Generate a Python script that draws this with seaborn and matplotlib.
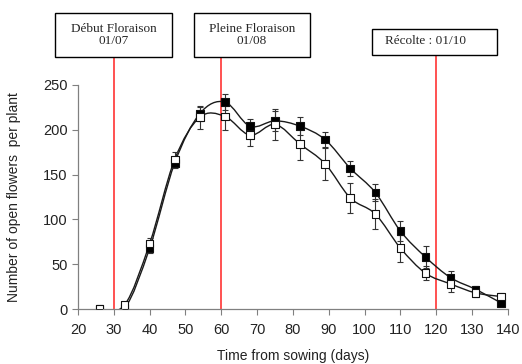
import numpy as np
import pandas as pd
import matplotlib
matplotlib.use('Agg')
import matplotlib.pyplot as plt
from matplotlib.path import Path
from matplotlib.patches import PathPatch, Rectangle
import seaborn as sns

# %% data
days = [26, 33, 40, 47, 54, 61, 68, 75, 82, 89, 96, 103, 110, 117, 124, 131, 138]
open_flowers = [0, 4.5, 73, 167, 214, 215, 194, 206, 184, 162, 124, 106, 68, 40, 28, 18, 14]
open_err = [0, 2, 6, 8, 13, 15, 12, 17, 18, 18, 17, 17, 15, 8, 9, 5, 4]
filled_flowers = [0, 1, 68, 163, 218, 231, 204, 210, 204, 189, 157, 130, 87, 58, 35, 22, 7]
filled_err = [0, 1, 5, 6, 8, 9, 8, 11, 10, 8, 8, 10, 11, 12, 8, 4, 3]

stage_days = [30, 60, 120]
stage_labels = ['Début Floraison\n01/07', 'Pleine Floraison\n01/08', 'Récolte : 01/10']

df = pd.DataFrame({
    'day': days * 2,
    'flowers': filled_flowers + open_flowers,
    'serie': ['filled'] * len(days) + ['open'] * len(days),
})


def smooth_path(x, y):
    """Catmull-Rom style bezier path through the points (Excel smoothed line)."""
    pts = np.column_stack([x, y]).astype(float)
    verts = [pts[0]]
    codes = [Path.MOVETO]
    n = len(pts)
    for i in range(n - 1):
        p0 = pts[max(i - 1, 0)]
        p1 = pts[i]
        p2 = pts[i + 1]
        p3 = pts[min(i + 2, n - 1)]
        verts += [p1 + (p2 - p0) / 6, p2 - (p3 - p1) / 6, p2]
        codes += [Path.CURVE4] * 3
    return Path(verts, codes)


# %% plot
sns.set_style('white')
plt.rcParams['font.family'] = ['Liberation Sans', 'DejaVu Sans']

fig = plt.figure(figsize=(5.22, 3.64), dpi=100)
ax = fig.add_axes([0.1494, 0.151, 0.8236, 0.6155])

for yv in (filled_flowers, open_flowers):
    ax.add_patch(PathPatch(smooth_path(days, yv), facecolor='none',
                           edgecolor='#1a1a1a', lw=1.0, zorder=2))

ax.errorbar(days, filled_flowers, yerr=filled_err, fmt='none', ecolor='#333333',
            elinewidth=0.8, capsize=2.5, capthick=0.8, zorder=3)
ax.errorbar(days, open_flowers, yerr=open_err, fmt='none', ecolor='#333333',
            elinewidth=0.8, capsize=2.5, capthick=0.8, zorder=3)

sns.scatterplot(data=df, x='day', y='flowers', hue='serie',
                palette={'filled': 'black', 'open': 'white'},
                marker='s', s=30, edgecolor='#111111', linewidth=0.8,
                legend=False, ax=ax, zorder=4)

ax.set_xlim(20, 140)
ax.set_ylim(0, 250)
ax.set_xticks(range(20, 141, 10))
ax.set_yticks(range(0, 251, 50))
ax.tick_params(axis='both', labelsize=10.5, colors='#222222', length=4,
               width=0.8, direction='out', bottom=True, left=True)
ax.tick_params(axis='x', pad=6)
ax.tick_params(axis='both', color='#808080')
for s in ('top', 'right'):
    ax.spines[s].set_visible(False)
for s in ('left', 'bottom'):
    ax.spines[s].set_color('#808080')
    ax.spines[s].set_linewidth(0.9)
ax.set_xlabel('Time from sowing (days)', fontsize=10, color='#222222', labelpad=9)
ax.set_ylabel('Number of open flowers  per plant', fontsize=10, color='#222222',
              labelpad=16)

# stage lines and boxes
line_tops = [1.125, 1.125, 1.134]
boxes = [(0.105, 0.8434, 0.2245, 0.1209),
         (0.3716, 0.8434, 0.2223, 0.1209),
         (0.7126, 0.8489, 0.2395, 0.0714)]
for d, top, (bx, by, bw, bh), lab in zip(stage_days, line_tops, boxes, stage_labels):
    ax.axvline(d, ymin=0, ymax=top, color='#ff3333', lw=1.2, clip_on=False, zorder=1)
    fig.add_artist(Rectangle((bx, by), bw, bh, transform=fig.transFigure,
                             facecolor='white', edgecolor='black', lw=1.0))
    if '\n' in lab:
        fig.text(bx + bw / 2, by + bh / 2, lab, ha='center', va='center',
                 family='Liberation Serif', fontsize=9.5, linespacing=1.1)
    else:
        fig.text(bx + 0.025, by + bh / 2 + 0.004, lab, ha='left', va='center',
                 family='Liberation Serif', fontsize=9.5)

fig.savefig('out.png', dpi=100)
